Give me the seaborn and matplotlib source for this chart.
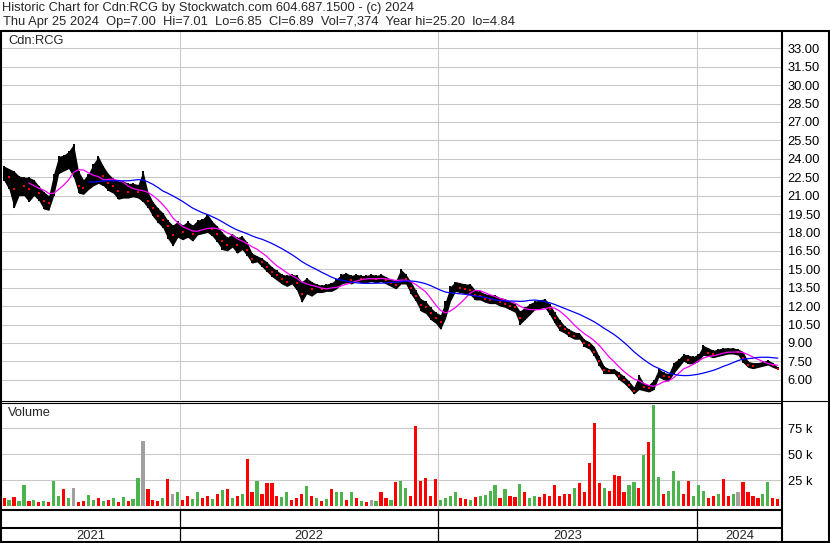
import numpy as np
import pandas as pd
import matplotlib
matplotlib.use("Agg")
import matplotlib.pyplot as plt
import seaborn as sns

# weekly bars (Apr 2021 - Apr 2024)
close = [
    22.8, 22.5, 21.5, 22.0, 21.8, 21.5, 21.6, 21.2, 20.6, 20.4,
    21.8, 23.5, 23.6, 23.8, 24.2, 21.8, 21.6, 22.2, 22.3, 23.2,
    22.6, 22.0, 21.8, 21.4, 21.6, 21.3, 21.4, 21.3, 21.4, 20.6,
    20.0, 19.3, 19.0, 18.5, 17.8, 18.2, 18.0, 18.3, 17.9, 18.4,
    18.5, 18.8, 18.3, 17.9, 17.3, 17.0, 17.4, 17.0, 17.2, 16.6,
    15.8, 15.8, 15.6, 15.2, 14.8, 14.5, 14.2, 14.0, 14.2, 13.9,
    13.0, 13.6, 13.4, 13.5, 13.4, 13.5, 13.5, 13.8, 14.2, 14.3,
    14.1, 14.3, 14.2, 14.2, 14.3, 14.2, 14.3, 14.1, 13.9, 13.7,
    14.5, 14.2, 13.5, 12.8, 12.1, 11.9, 11.4, 11.0, 10.7, 11.6,
    13.0, 13.6, 13.5, 13.4, 13.3, 12.9, 12.8, 12.6, 12.5, 12.6,
    12.3, 12.2, 12.0, 11.9, 11.0, 11.4, 11.8, 12.1, 12.1, 12.2,
    11.8, 11.0, 10.4, 10.1, 9.8, 9.6, 9.6, 9.0, 8.8, 8.3,
    7.5, 6.8, 6.7, 6.7, 6.3, 6.0, 5.6, 5.1, 5.8, 5.4,
    5.3, 5.6, 6.6, 6.3, 6.2, 7.0, 7.4, 7.8, 7.6, 7.6,
    7.8, 8.4, 8.2, 8.1, 8.2, 8.3, 8.3, 8.4, 8.3, 7.8,
    7.2, 7.1, 7.2, 7.3, 7.4, 7.2, 6.89,
]
high = [
    23.4, 23.2, 23.0, 22.6, 22.5, 22.5, 22.3, 21.8, 21.3, 21.0,
    22.8, 24.2, 24.3, 24.6, 25.2, 23.0, 22.3, 22.8, 23.6, 24.2,
    23.4, 22.8, 22.4, 22.2, 22.2, 22.0, 22.0, 21.9, 23.0, 21.3,
    20.5, 20.0, 19.6, 19.0, 18.6, 18.9, 18.6, 18.9, 18.6, 19.0,
    19.1, 19.5, 18.9, 18.5, 18.0, 17.6, 17.9, 17.6, 17.7, 17.2,
    16.3, 16.1, 15.9, 15.6, 15.2, 14.9, 14.6, 14.5, 14.6, 14.5,
    14.0, 14.3, 14.0, 13.8, 13.7, 13.8, 13.9, 14.2, 14.6, 14.7,
    14.5, 14.6, 14.5, 14.5, 14.6, 14.5, 14.6, 14.4, 14.2, 14.1,
    15.0, 14.6, 14.0, 13.3, 12.6, 12.4, 11.9, 11.5, 11.3, 12.4,
    13.6, 14.0, 13.9, 13.8, 13.8, 13.3, 13.2, 13.0, 12.9, 12.9,
    12.7, 12.6, 12.4, 12.2, 11.6, 11.9, 12.2, 12.4, 12.5, 12.6,
    12.2, 11.5, 10.9, 10.4, 10.1, 9.9, 9.8, 9.3, 9.1, 8.7,
    7.9, 7.1, 6.9, 6.9, 6.6, 6.3, 5.9, 5.4, 6.4, 5.7,
    5.6, 6.0, 6.9, 6.6, 6.5, 7.4, 7.7, 8.1, 8.0, 7.9,
    8.1, 8.8, 8.6, 8.4, 8.5, 8.6, 8.6, 8.6, 8.5, 8.3,
    7.5, 7.4, 7.4, 7.5, 7.6, 7.4, 7.01,
]
low = [
    22.2, 21.5, 20.0, 21.0, 21.0, 20.5, 21.0, 20.6, 19.9, 19.8,
    21.0, 22.8, 23.0, 23.2, 22.5, 21.2, 21.1, 21.5, 21.8, 22.0,
    21.8, 21.4, 21.2, 20.7, 20.8, 20.8, 20.9, 20.8, 20.5, 20.0,
    19.3, 18.8, 18.4, 17.5, 16.9, 17.6, 17.4, 17.6, 17.3, 17.8,
    17.9, 18.0, 17.7, 17.2, 16.6, 16.5, 16.8, 16.3, 16.6, 16.1,
    15.5, 15.6, 15.2, 14.8, 14.4, 14.1, 13.8, 13.6, 13.8, 13.3,
    12.3, 13.0, 12.8, 13.1, 13.1, 13.2, 13.2, 13.4, 13.8, 13.9,
    13.8, 14.0, 13.9, 13.9, 14.0, 13.9, 14.0, 13.8, 13.6, 13.4,
    13.8, 13.8, 13.0, 12.4, 11.6, 11.4, 10.9, 10.6, 10.1, 11.0,
    12.4, 13.2, 13.1, 13.0, 12.9, 12.5, 12.5, 12.3, 12.2, 12.2,
    12.0, 11.9, 11.7, 11.5, 10.5, 10.9, 11.3, 11.7, 11.8, 11.9,
    11.3, 10.6, 10.0, 9.8, 9.5, 9.3, 9.3, 8.7, 8.5, 7.9,
    7.1, 6.5, 6.5, 6.5, 6.0, 5.7, 5.3, 4.84, 5.2, 5.1,
    5.0, 5.2, 6.2, 6.0, 5.9, 6.5, 7.0, 7.5, 7.3, 7.3,
    7.5, 8.0, 7.9, 7.8, 7.9, 8.0, 8.1, 8.1, 8.0, 7.4,
    7.0, 6.9, 7.0, 7.1, 7.2, 7.0, 6.85,
]
# volume in thousands, u = up (green), d = down (red), n = unchanged (grey)
vol_k = [
    8, 6, 9, 5, 20, 5, 6, 4, 5, 4,
    24, 10, 17, 8, 18, 4, 5, 11, 6, 8,
    5, 6, 8, 4, 9, 5, 7, 27, 63, 17,
    6, 5, 8, 26, 12, 14, 6, 10, 7, 14,
    8, 10, 7, 12, 16, 17, 8, 10, 12, 45,
    14, 24, 12, 22, 22, 10, 9, 14, 6, 8,
    12, 19, 10, 8, 5, 7, 17, 14, 14, 6,
    14, 8, 5, 4, 6, 5, 14, 8, 6, 23,
    24, 18, 10, 77, 24, 27, 10, 26, 6, 8,
    10, 14, 8, 7, 6, 9, 10, 11, 15, 20,
    8, 17, 10, 9, 21, 14, 8, 10, 9, 12,
    10, 20, 10, 12, 12, 18, 22, 14, 42, 80,
    22, 18, 15, 30, 29, 14, 20, 23, 18, 49,
    62, 97, 28, 12, 15, 34, 24, 12, 24, 10,
    20, 15, 8, 10, 12, 26, 10, 12, 14, 23,
    14, 10, 8, 12, 23, 8, 7,
]
vol_dir = ("duduududud" "uudundduud" "udududuund" "ddudnudduu"
           "ddudududud" "dudddduudd" "dudududuud" "ududnuddud"
           "uudddddduu" "uudduduuuu" "dudduduudd" "dddddudddd"
           "dudddduudu" "duuduuuddu" "uudduddund" "ddduudd")

price_ticks = [6.0, 7.5, 9.0, 10.5, 12.0, 13.5, 15.0, 16.5, 18.0, 19.5,
               21.0, 22.5, 24.0, 25.5, 27.0, 28.5, 30.0, 31.5, 33.0]
vol_ticks = [25000, 50000, 75000]
vol_labels = ["25 k", "50 k", "75 k"]
years = [2021, 2022, 2023, 2024]

title1 = "Historic Chart for Cdn:RCG by Stockwatch.com 604.687.1500 - (c) 2024"
title2 = ("Thu Apr 25 2024  Op=7.00  Hi=7.01  Lo=6.85  Cl=6.89  "
          "Vol=7,374  Year hi=25.20  lo=4.84")

df = pd.DataFrame({
    "date": pd.date_range("2021-04-28", periods=len(close), freq="W-WED"),
    "close": close, "high": high, "low": low,
    "vol": np.array(vol_k) * 1000, "dir": list(vol_dir),
})
df["ma_fast"] = df["close"].rolling(6).mean()
df["ma_slow"] = df["close"].rolling(18).mean()

sns.set_style("white")
plt.rcParams["font.family"] = ["Liberation Sans", "DejaVu Sans"]
FS = 9.3

W, H = 830, 543
fig = plt.figure(figsize=(W / 100, H / 100), dpi=100)


def rect(l, t, r, b):
    return [l / W, 1 - b / H, (r - l) / W, (b - t) / H]


ax_p = fig.add_axes(rect(2, 31, 782, 400))
ax_v = fig.add_axes(rect(2, 404, 782, 509), sharex=ax_p)
ax_d = fig.add_axes(rect(2, 511, 782, 541), sharex=ax_p)
x0, x1 = pd.Timestamp("2021-04-25"), pd.Timestamp("2024-04-30")
grid_c = "#C8C8C8"

# price panel
for t in price_ticks:
    ax_p.axhline(t, color=grid_c, lw=0.75, zorder=0)
ax_p.fill_between(df["date"], df["low"], df["high"], color="black", lw=0, zorder=2)
ax_p.vlines(df["date"], df["low"], df["high"], color="black", lw=1.4, zorder=2)
down = df["close"] < df["close"].shift()
ax_p.plot(df["date"][down], df["close"][down], ls="none", marker="s",
          ms=1.6, mew=0, color="red", zorder=3)
sns.lineplot(data=df, x="date", y="ma_fast", color="#FF00FF", lw=0.9, ax=ax_p, zorder=4)
sns.lineplot(data=df, x="date", y="ma_slow", color="#0000FF", lw=0.9, ax=ax_p, zorder=4)
ax_p.set_ylim(4.35, 34.41)
ax_p.set_yticks(price_ticks)
ax_p.set_yticklabels([f"{t:.2f}" for t in price_ticks])

# volume panel
for t in vol_ticks:
    ax_v.axhline(t, color=grid_c, lw=0.75, zorder=0)
cmap = {"u": "#4CB44C", "d": "#FF0000", "n": "#A0A0A0"}
ax_v.bar(df["date"], df["vol"], width=4.5, color=[cmap[c] for c in df["dir"]],
         lw=0, zorder=2)
ax_v.set_ylim(-2700, 98400)
ax_v.set_yticks(vol_ticks)
ax_v.set_yticklabels(vol_labels)

for ax in (ax_p, ax_v, ax_d):
    for s in ax.spines.values():
        s.set_visible(False)
    ax.set_xlabel("")
    ax.set_ylabel("")
    ax.yaxis.tick_right()
    ax.tick_params(axis="y", length=0, pad=4, labelsize=FS, labelcolor="black")
    ax.tick_params(axis="x", bottom=False, labelbottom=False)
    ax.patch.set_alpha(0)
ax_p.set_xlim(x0, x1)
ax_d.set_yticks([])
ax_d.set_ylim(0, 1)

# year boundaries and labels
for y in years[1:]:
    d = pd.Timestamp(f"{y}-01-01")
    ax_p.axvline(d, color=grid_c, lw=0.75, zorder=0)
    ax_v.axvline(d, color=grid_c, lw=0.75, zorder=0)
    ax_d.axvline(d, color="black", lw=0.9)
for y in years:
    a = max(pd.Timestamp(f"{y}-01-01"), x0)
    b = min(pd.Timestamp(f"{y + 1}-01-01"), x1)
    ax_d.text(a + (b - a) / 2, 0.18, str(y), ha="center", va="center", fontsize=FS)

# frame drawn in pixel coordinates
ax_f = fig.add_axes([0, 0, 1, 1], zorder=10)
ax_f.set_xlim(0, W)
ax_f.set_ylim(H, 0)
ax_f.axis("off")
ax_f.patch.set_alpha(0)
k = dict(color="black", solid_capstyle="butt")
ax_f.plot([0, W], [30.5, 30.5], lw=1.5, **k)
ax_f.plot([1, 1], [30, H], lw=1.5, **k)
ax_f.plot([W - 1.5, W - 1.5], [30, H], lw=1.5, **k)
ax_f.plot([782, 782], [30, H], lw=1.5, **k)
ax_f.plot([0, W], [H - 1.5, H - 1.5], lw=1.5, **k)
ax_f.plot([0, W], [400.5, 400.5], lw=0.8, **k)
ax_f.plot([0, 782], [403, 403], lw=0.8, **k)
ax_f.plot([0, 782], [510, 510], lw=1.5, **k)
ax_f.plot([0, 782], [527.5, 527.5], lw=1.5, **k)

ax_f.text(2, 8, title1, va="center", fontsize=FS)
ax_f.text(3, 22.5, title2, va="center", fontsize=FS)
ax_f.text(8, 41.5, "Cdn:RCG", va="center", fontsize=FS)
ax_f.text(8, 413, "Volume", va="center", fontsize=FS)

fig.savefig("out.png", dpi=100)
